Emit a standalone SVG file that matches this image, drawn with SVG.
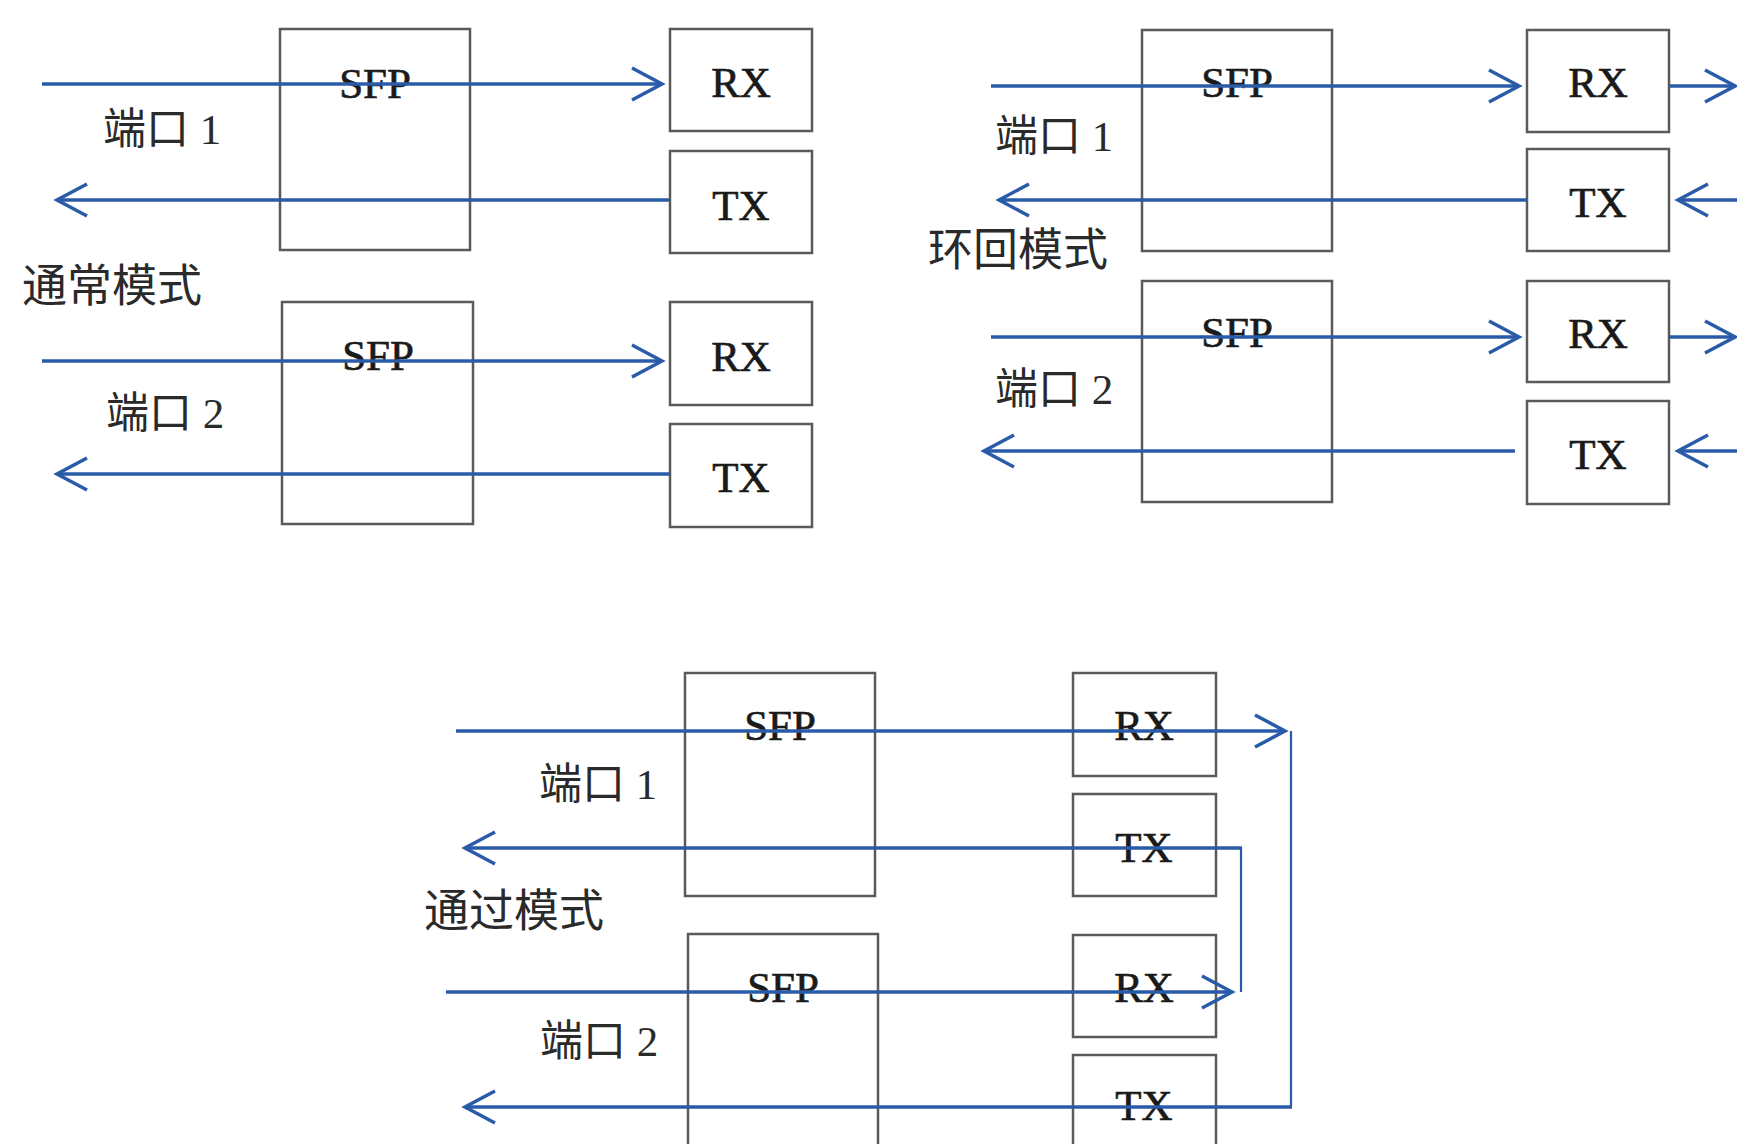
<svg xmlns="http://www.w3.org/2000/svg" width="1737" height="1144" viewBox="0 0 1737 1144">
<style>
.box{fill:none;stroke:#5a5a5a;stroke-width:2.5}
.ln{fill:none;stroke:#2a5ba8;stroke-width:3.5}
.thin{fill:none;stroke:#2a5ba8;stroke-width:2.2}
.lb{font-family:"Liberation Serif","Noto Sans CJK SC",serif;font-size:43px;fill:#1a1a1a;stroke:#1a1a1a;stroke-width:0.7;text-anchor:middle}
.cn{font-family:"Liberation Serif","Noto Sans CJK SC",serif;font-size:43px;fill:#2a2a2a}
.md{font-family:"Noto Sans CJK SC",sans-serif;font-size:45px;fill:#2a2a2a}
</style>
<defs>
<marker id="arr" markerUnits="userSpaceOnUse" markerWidth="44" markerHeight="44" viewBox="-36 -22 44 44" refX="0" refY="0" orient="auto" overflow="visible">
<path d="M-30,-16 L0,0 L-30,16" fill="none" stroke="#2a5ba8" stroke-width="3.5"/>
</marker>
</defs>
<rect width="1737" height="1144" fill="#ffffff"/>

<g id="normal-mode">
<g id="n-sfp1"><rect class="box" x="280" y="29" width="190" height="221"/><text class="lb" x="375" y="98">SFP</text></g>
<g id="n-rx1"><rect class="box" x="670" y="29" width="142" height="102"/><text class="lb" x="741" y="97">RX</text></g>
<g id="n-tx1"><rect class="box" x="670" y="151" width="142" height="102"/><text class="lb" x="741" y="220">TX</text></g>
<g id="n-sfp2"><rect class="box" x="282" y="302" width="191" height="222"/><text class="lb" x="378" y="370">SFP</text></g>
<g id="n-rx2"><rect class="box" x="670" y="302" width="142" height="103"/><text class="lb" x="741" y="371">RX</text></g>
<g id="n-tx2"><rect class="box" x="670" y="424" width="142" height="103"/><text class="lb" x="741" y="492">TX</text></g>
<text class="cn" x="103" y="144">端口 1</text>
<text class="md" x="22" y="302">通常模式</text>
<text class="cn" x="106" y="428">端口 2</text>
</g>

<g id="loopback-mode">
<g id="l-sfp1"><rect class="box" x="1142" y="30" width="190" height="221"/><text class="lb" x="1237" y="97">SFP</text></g>
<g id="l-rx1"><rect class="box" x="1527" y="30" width="142" height="102"/><text class="lb" x="1598" y="97">RX</text></g>
<g id="l-tx1"><rect class="box" x="1527" y="149" width="142" height="102"/><text class="lb" x="1598" y="217">TX</text></g>
<g id="l-sfp2"><rect class="box" x="1142" y="281" width="190" height="221"/><text class="lb" x="1237" y="347">SFP</text></g>
<g id="l-rx2"><rect class="box" x="1527" y="281" width="142" height="101"/><text class="lb" x="1598" y="348">RX</text></g>
<g id="l-tx2"><rect class="box" x="1527" y="401" width="142" height="103"/><text class="lb" x="1598" y="469">TX</text></g>
<text class="cn" x="995" y="151">端口 1</text>
<text class="md" x="928" y="266">环回模式</text>
<text class="cn" x="995" y="404">端口 2</text>
</g>

<g id="pass-mode">
<g id="p-sfp1"><rect class="box" x="685" y="673" width="190" height="223"/><text class="lb" x="780" y="740">SFP</text></g>
<g id="p-rx1"><rect class="box" x="1073" y="673" width="143" height="103"/><text class="lb" x="1144" y="740">RX</text></g>
<g id="p-tx1"><rect class="box" x="1073" y="794" width="143" height="102"/><text class="lb" x="1144" y="862">TX</text></g>
<g id="p-sfp2"><rect class="box" x="688" y="934" width="190" height="220"/><text class="lb" x="783" y="1002">SFP</text></g>
<g id="p-rx2"><rect class="box" x="1073" y="935" width="143" height="102"/><text class="lb" x="1144" y="1002">RX</text></g>
<g id="p-tx2"><rect class="box" x="1073" y="1055" width="143" height="100"/><text class="lb" x="1144" y="1120">TX</text></g>
<text class="cn" x="539" y="799">端口 1</text>
<text class="md" x="424" y="927">通过模式</text>
<text class="cn" x="540" y="1056">端口 2</text>
</g>

<g id="connectors">
<line class="ln" x1="42" y1="84" x2="662" y2="84" marker-end="url(#arr)"/>
<line class="ln" x1="670" y1="200" x2="57" y2="200" marker-end="url(#arr)"/>
<line class="ln" x1="42" y1="361" x2="662" y2="361" marker-end="url(#arr)"/>
<line class="ln" x1="670" y1="474" x2="57" y2="474" marker-end="url(#arr)"/>

<line class="ln" x1="991" y1="86" x2="1519" y2="86" marker-end="url(#arr)"/>
<line class="ln" x1="1669" y1="86" x2="1735" y2="86" marker-end="url(#arr)"/>
<line class="ln" x1="1527" y1="200" x2="999" y2="200" marker-end="url(#arr)"/>
<line class="ln" x1="1740" y1="200" x2="1678" y2="200" marker-end="url(#arr)"/>
<line class="ln" x1="991" y1="337" x2="1519" y2="337" marker-end="url(#arr)"/>
<line class="ln" x1="1669" y1="337" x2="1735" y2="337" marker-end="url(#arr)"/>
<line class="ln" x1="1515" y1="451" x2="984" y2="451" marker-end="url(#arr)"/>
<line class="ln" x1="1740" y1="451" x2="1678" y2="451" marker-end="url(#arr)"/>

<line class="ln" x1="456" y1="731" x2="1285" y2="731" marker-end="url(#arr)"/>
<line class="thin" x1="1291" y1="731" x2="1291" y2="1107"/>
<line class="ln" x1="1292" y1="1107" x2="465" y2="1107" marker-end="url(#arr)"/>
<line class="ln" x1="1242" y1="848" x2="465" y2="848" marker-end="url(#arr)"/>
<line class="thin" x1="1241" y1="848" x2="1241" y2="992"/>
<line class="ln" x1="446" y1="992" x2="1232" y2="992" marker-end="url(#arr)"/>
</g>
</svg>
